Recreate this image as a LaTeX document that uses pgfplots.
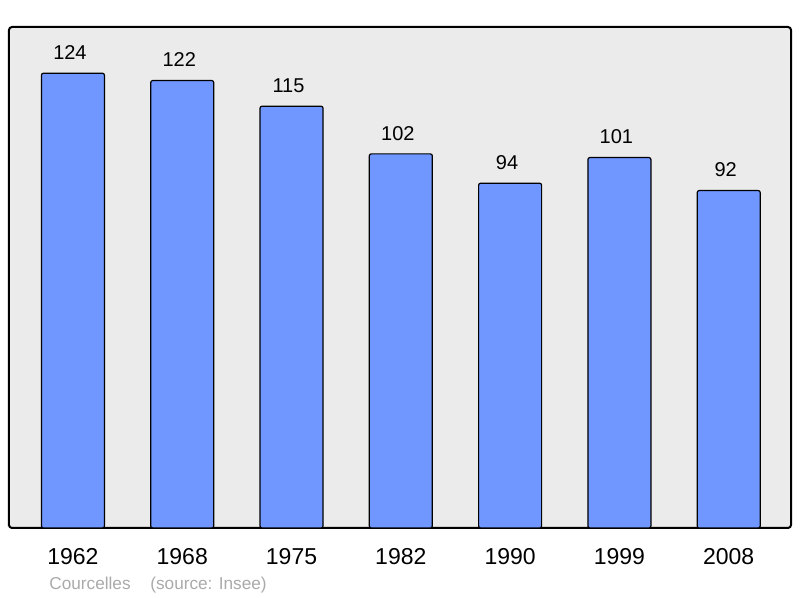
\documentclass[border=0pt]{standalone}
\usepackage{fontspec}
\setmainfont{Liberation Sans}
\usepackage{pgfplots}
\pgfplotsset{compat=1.18}
\definecolor{barblue}{RGB}{112,150,255}
\definecolor{plotbg}{RGB}{235,235,235}
\definecolor{footgray}{RGB}{170,170,170}

\begin{document}
\begin{tikzpicture}
% page = 800 x 598 px at 0.5pt per px, origin at the frame's lower left
\path[use as bounding box] (-4.5pt,-35pt) rectangle (395.5pt,264pt);
\begin{axis}[
    at={(0,0)}, anchor=south west,
    scale only axis,
    width=391pt, height=250.5pt,
    xmin=-0.585, xmax=6.57,
    ymin=0, ymax=136.6,
    /pgf/number format/assume math mode=true,
    axis background/.style={fill=plotbg},
    axis line style={black, line width=1pt, rounded corners=1.5pt},
    ytick=\empty,
    xtick=data,
    xticklabels={1962,1968,1975,1982,1990,1999,2008},
    major tick length=0pt,
    xticklabel style={font=\fontsize{11.5}{13}\selectfont, inner sep=0pt, anchor=north, yshift=-10pt},
    ybar, bar width=31.5pt,
    nodes near coords,
    nodes near coords style={font=\fontsize{10}{12}\selectfont, inner sep=0pt, anchor=south, yshift=6.5pt, xshift=-1.5pt, black},
]
\addplot[fill=barblue, draw=black, line width=0.6pt, rounded corners=1pt] coordinates {
    (0,124) (1,122) (2,115) (3,102) (4,94) (5,101) (6,92)
};
\end{axis}
\node[anchor=base west, inner sep=0pt, text=footgray, font=\fontsize{8.6}{10}\selectfont] at (20pt,-31pt) {Courcelles};
\node[anchor=base west, inner sep=0pt, text=footgray, font=\fontsize{8.6}{10}\selectfont] at (70.5pt,-31pt) {(source: Insee)};
\end{tikzpicture}
\end{document}
